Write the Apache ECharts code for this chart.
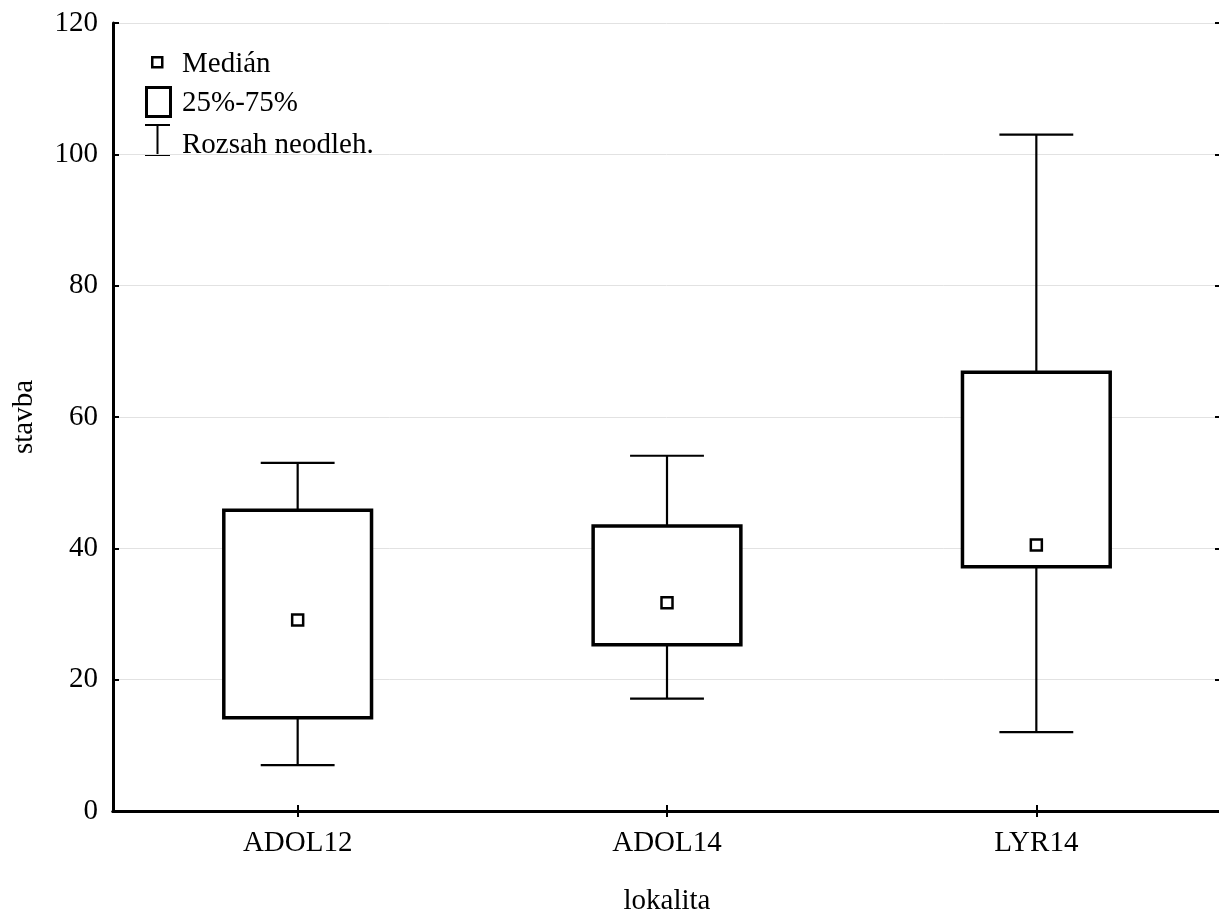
<!DOCTYPE html>
<html>
<head>
<meta charset="utf-8">
<script src="https://cdn.jsdelivr.net/npm/echarts@6/dist/echarts.min.js"></script>
<style>
  html, body { margin: 0; padding: 0; background: #fff; }
  #chart { width: 1219px; height: 912px; }
</style>
</head>
<body>
<div id="chart"></div>
<script>
// Box plot of "stavba" by site (lokalita)
const categories = ['ADOL12', 'ADOL14', 'LYR14'];
const lowWhisker = [7, 17.1, 12];
const q1 = [14.2, 25.3, 37.2];
const medians = [29.1, 31.7, 40.5];
const q3 = [45.8, 43.4, 66.8];
const highWhisker = [53, 54.1, 103];
const yTicks = [0, 20, 40, 60, 80, 100, 120];

const FONT = '"Liberation Serif", "Times New Roman", serif';
const FS = 29;

const boxData = categories.map((c, i) => [i, lowWhisker[i], q1[i], medians[i], q3[i], highWhisker[i]]);

function renderBox(params, api) {
  const idx = api.value(0);
  const band = api.size([1, 0])[0];
  const halfBox = band * 0.2;
  const halfCap = band * 0.1;
  const pLow = api.coord([idx, api.value(1)]);
  const pQ1 = api.coord([idx, api.value(2)]);
  const pMed = api.coord([idx, api.value(3)]);
  const pQ3 = api.coord([idx, api.value(4)]);
  const pHigh = api.coord([idx, api.value(5)]);
  const cx = pMed[0];
  const whisker = { stroke: '#000', lineWidth: 2.2 };
  const m = 5.5;
  return {
    type: 'group',
    children: [
      { type: 'line', shape: { x1: cx, y1: pHigh[1], x2: cx, y2: pQ3[1] }, style: whisker },
      { type: 'line', shape: { x1: cx - halfCap, y1: pHigh[1], x2: cx + halfCap, y2: pHigh[1] }, style: whisker },
      { type: 'line', shape: { x1: cx, y1: pQ1[1], x2: cx, y2: pLow[1] }, style: whisker },
      { type: 'line', shape: { x1: cx - halfCap, y1: pLow[1], x2: cx + halfCap, y2: pLow[1] }, style: whisker },
      { type: 'rect', shape: { x: cx - halfBox, y: pQ3[1], width: halfBox * 2, height: pQ1[1] - pQ3[1] },
        style: { fill: '#fff', stroke: '#000', lineWidth: 3.5 } },
      { type: 'rect', shape: { x: cx - m, y: pMed[1] - m, width: m * 2, height: m * 2 },
        style: { fill: '#fff', stroke: '#000', lineWidth: 2.5 } }
    ]
  };
}

const chart = echarts.init(document.getElementById('chart'), null, { renderer: 'canvas' });

const textStyle = { fontFamily: FONT, fontSize: FS, color: '#000' };
const legendFont = FS + 'px ' + FONT;

chart.setOption({
  animation: false,
  backgroundColor: '#fff',
  grid: { left: 113, top: 23, bottom: 101, right: -2, containLabel: false, outerBoundsMode: 'none' },
  xAxis: [
    {
      type: 'category',
      data: categories,
      position: 'bottom',
      name: 'lokalita',
      nameLocation: 'middle',
      nameGap: 76,
      nameTextStyle: textStyle,
      axisLine: { show: true, lineStyle: { color: '#000', width: 3 } },
      axisTick: { show: true, inside: true, length: 6, alignWithLabel: true, lineStyle: { color: '#000', width: 2 } },
      axisLabel: { ...textStyle, margin: 18 },
      splitLine: { show: false }
    },
    {
      type: 'category',
      data: categories,
      position: 'top',
      axisLine: { show: true, lineStyle: { color: '#000', width: 3 } },
      axisTick: { show: true, inside: true, length: 6, alignWithLabel: true, lineStyle: { color: '#000', width: 2 } },
      axisLabel: { show: false },
      splitLine: { show: false }
    }
  ],
  yAxis: [
    {
      type: 'value',
      min: yTicks[0],
      max: yTicks[yTicks.length - 1],
      interval: 20,
      position: 'left',
      name: 'stavba',
      nameLocation: 'middle',
      nameGap: 74,
      nameRotate: 90,
      nameTextStyle: textStyle,
      axisLine: { show: true, lineStyle: { color: '#000', width: 3 } },
      axisTick: { show: true, inside: true, length: 6, lineStyle: { color: '#000', width: 2 } },
      axisLabel: { ...textStyle, margin: 15 },
      splitLine: { show: true, lineStyle: { color: '#e2e2e2', width: 1 } }
    },
    {
      type: 'value',
      min: yTicks[0],
      max: yTicks[yTicks.length - 1],
      interval: 20,
      position: 'right',
      axisLine: { show: false },
      axisTick: { show: true, inside: true, length: 6, lineStyle: { color: '#000', width: 2 } },
      axisLabel: { show: false },
      splitLine: { show: false }
    }
  ],
  series: [
    {
      type: 'custom',
      xAxisIndex: 0,
      yAxisIndex: 0,
      renderItem: renderBox,
      encode: { x: 0, y: [1, 2, 3, 4, 5] },
      data: boxData,
      z: 5
    }
  ],
  graphic: [
    // legend: median marker
    { type: 'rect', left: 151, top: 56, shape: { width: 10, height: 10 }, style: { fill: '#fff', stroke: '#000', lineWidth: 2.5 } },
    { type: 'text', x: 182, y: 64, style: { text: 'Medián', font: legendFont, fill: '#000', verticalAlign: 'middle' } },
    // legend: interquartile box
    { type: 'rect', left: 145, top: 86, shape: { width: 24, height: 29 }, style: { fill: '#fff', stroke: '#000', lineWidth: 3 } },
    { type: 'text', x: 182, y: 103, style: { text: '25%-75%', font: legendFont, fill: '#000', verticalAlign: 'middle' } },
    // legend: whisker range
    { type: 'line', shape: { x1: 145, y1: 125, x2: 170, y2: 125 }, style: { stroke: '#000', lineWidth: 2 } },
    { type: 'line', shape: { x1: 157.5, y1: 125, x2: 157.5, y2: 155 }, style: { stroke: '#000', lineWidth: 2 } },
    { type: 'line', shape: { x1: 145, y1: 155, x2: 170, y2: 155 }, style: { stroke: '#000', lineWidth: 2 } },
    { type: 'text', x: 182, y: 145, style: { text: 'Rozsah neodleh.', font: legendFont, fill: '#000', verticalAlign: 'middle' } }
  ]
});
</script>
</body>
</html>
